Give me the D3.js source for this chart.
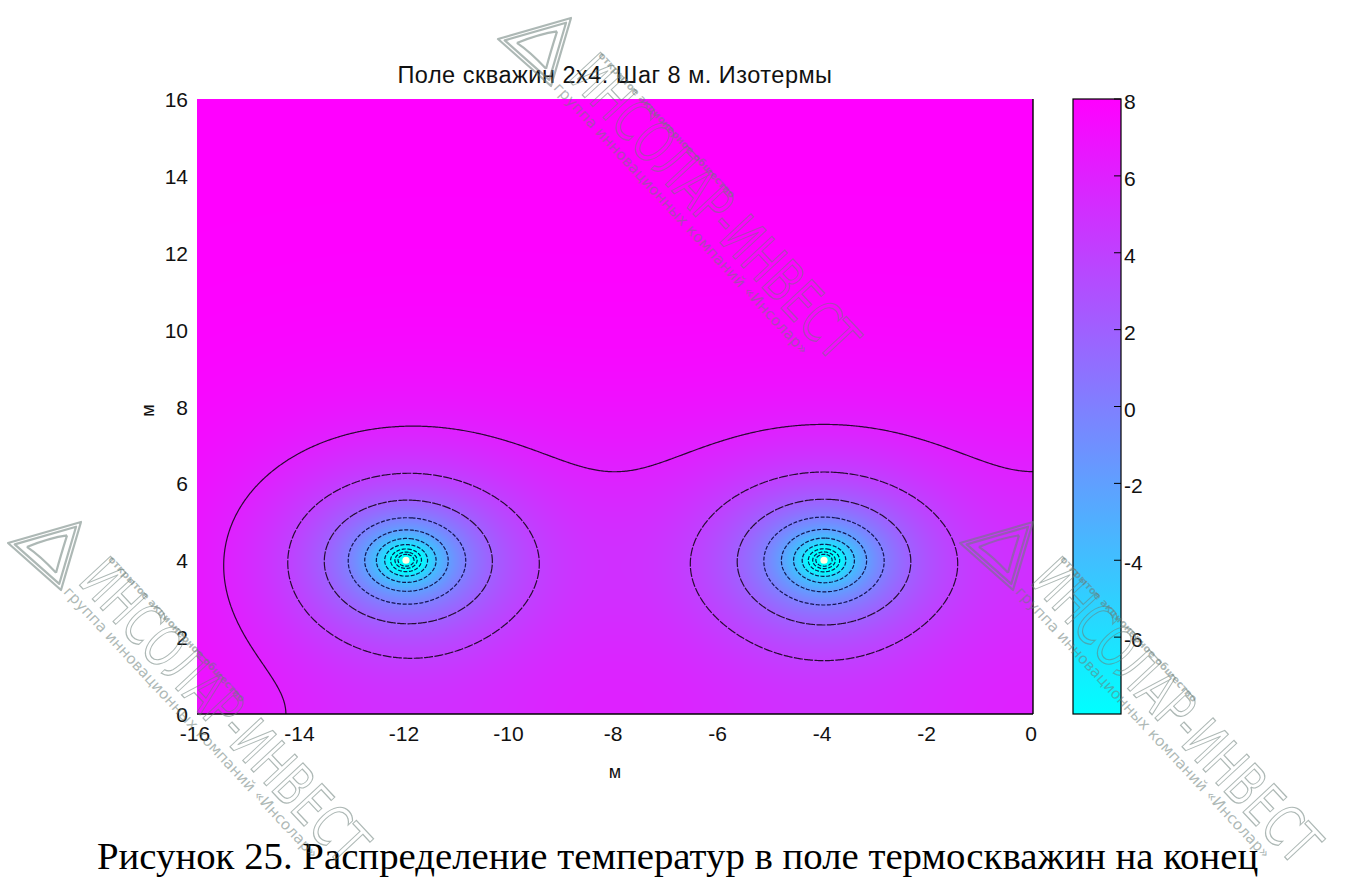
<!DOCTYPE html>
<html>
<head>
<meta charset="utf-8">
<script src="https://cdn.jsdelivr.net/npm/d3@7"></script>
<style>
  html, body { margin: 0; background: #fff; }
  svg { display: block; }
</style>
</head>
<body>
<svg id="chart" width="1360" height="887"></svg>
<script>
// Borehole field 2x4 with 8 m step (the quarter x<0, y>0 is shown)
const wellX = [-12, -4, 4, 12];     // m
const wellY = [4, -4];              // m
const groundTemp = 8;               // undisturbed ground temperature, °C
const wellStrength = 3.05;          // temperature drop scale per borehole, °C
const spreadArea = 27.5;            // 4·a·t, m²
const wellRadius = 0.05;            // m
const isoLevels = [-12, -10, -8, -6, -4, -2, 0, 2, 4, 6];
const xTicks = [-16, -14, -12, -10, -8, -6, -4, -2, 0];
const yTicks = [0, 2, 4, 6, 8, 10, 12, 14, 16];
const cbTicks = [-6, -4, -2, 0, 2, 4, 6, 8];
const xDomain = [-16, 0];
const yDomain = [0, 16];
const tempDomain = [-8, 8];
const titleText = "Поле скважин 2x4. Шаг 8 м. Изотермы";
const axisLabel = "м";
const captionText = "Рисунок 25. Распределение температур в поле термоскважин на конец";

const svg = d3.select("#chart");
const plot = { left: 197, right: 1033, top: 99, bottom: 714 };
const cb = { left: 1073, right: 1121 };

const xScale = d3.scaleLinear().domain(xDomain).range([plot.left, plot.right]);
const yScale = d3.scaleLinear().domain(yDomain).range([plot.bottom, plot.top]);
const cbScale = d3.scaleLinear().domain(tempDomain).range([plot.bottom, plot.top]);
const tScale = d3.scaleLinear().domain(tempDomain).range([0, 1]).clamp(true);
const colorScale = d3.scaleLinear().domain(tempDomain).range(["#00ffff", "#ff00ff"]).clamp(true);

// Exponential integral E1 (line-source solution)
function E1(u) {
  if (u > 40) return 0;
  if (u < 1) {
    let t = 1, s = 0;
    for (let k = 1; k <= 20; k++) { t *= -u / k; s += t / k; }
    return -0.5772156649 - Math.log(u) - s;
  }
  const num = u * u + 2.334733 * u + 0.250621;
  const den = u * u + 3.330657 * u + 1.681534;
  return Math.exp(-u) / u * num / den;
}

function temperature(x, y) {
  let d = 0;
  const rmin2 = wellRadius * wellRadius;
  for (const wx of wellX) for (const wy of wellY) {
    const dx = x - wx, dy = y - wy;
    d += E1(Math.max(dx * dx + dy * dy, rmin2) / spreadArea);
  }
  return groundTemp - wellStrength * d;
}

// ---- shaded temperature field ----
const W = plot.right - plot.left, H = plot.bottom - plot.top;
const canvas = document.createElement("canvas");
canvas.width = W; canvas.height = H;
const ctx = canvas.getContext("2d");
const img = ctx.createImageData(W, H);
for (let py = 0; py < H; py++) {
  const y = yScale.invert(plot.top + py + 0.5);
  for (let px = 0; px < W; px++) {
    const x = xScale.invert(plot.left + px + 0.5);
    const t = tScale(temperature(x, y));
    const i = (py * W + px) * 4;
    img.data[i] = Math.round(255 * t);
    img.data[i + 1] = Math.round(255 * (1 - t));
    img.data[i + 2] = 255;
    img.data[i + 3] = 255;
  }
}
ctx.putImageData(img, 0, 0);

const defs = svg.append("defs");
defs.append("clipPath").attr("id", "plotClip")
  .append("rect").attr("x", plot.left).attr("y", plot.top).attr("width", W).attr("height", H);

svg.append("image")
  .attr("x", plot.left).attr("y", plot.top)
  .attr("width", W).attr("height", H)
  .attr("preserveAspectRatio", "none")
  .attr("href", canvas.toDataURL());

// ---- isotherms ----
const step = 0.025;
const gx0 = xDomain[0] - 0.6, gy0 = yDomain[0] - 0.6;
const nx = Math.round((xDomain[1] - xDomain[0] + 1.2) / step) + 1;
const ny = Math.round((yDomain[1] - yDomain[0] + 1.2) / step) + 1;
const grid = new Float64Array(nx * ny);
for (let j = 0; j < ny; j++) for (let i = 0; i < nx; i++) {
  grid[j * nx + i] = temperature(gx0 + i * step, gy0 + j * step);
}
const contours = d3.contours().size([nx, ny]).thresholds(isoLevels)(grid);
const proj = d3.geoTransform({
  point(px, py) {
    this.stream.point(xScale(gx0 + (px - 0.5) * step), yScale(gy0 + (py - 0.5) * step));
  }
});
const geoPath = d3.geoPath(proj);

svg.append("g").attr("clip-path", "url(#plotClip)")
  .selectAll("path").data(contours).join("path")
  .attr("d", geoPath)
  .attr("fill", "none")
  .attr("stroke", d => d.value <= 0 ? "#0c0c44" : "#1a0620")
  .attr("stroke-opacity", 0.92)
  .attr("stroke-width", 1.2)
  .attr("stroke-dasharray", d => d.value >= 6 ? null : (d.value <= 0 ? "4 1.6" : "9 1.4"));

// borehole markers
const visibleWells = [];
for (const wx of wellX) for (const wy of wellY) {
  if (wx >= xDomain[0] && wx <= xDomain[1] && wy >= yDomain[0] && wy <= yDomain[1]) visibleWells.push([wx, wy]);
}
svg.append("g").selectAll("circle").data(visibleWells).join("circle")
  .attr("cx", d => xScale(d[0])).attr("cy", d => yScale(d[1]))
  .attr("r", 3.6).attr("fill", "#fffbe2");

// ---- axes ----
const axisFont = "'Liberation Sans', Arial, sans-serif";
svg.append("line").attr("x1", plot.left).attr("x2", plot.right).attr("y1", plot.bottom).attr("y2", plot.bottom)
  .attr("stroke", "#000").attr("stroke-width", 1.4);
svg.append("line").attr("x1", plot.right).attr("x2", plot.right).attr("y1", plot.top).attr("y2", plot.bottom)
  .attr("stroke", "#000").attr("stroke-width", 1.4);

svg.append("g").selectAll("text").data(xTicks).join("text")
  .attr("x", d => xScale(d) - 2).attr("y", plot.bottom + 27)
  .attr("text-anchor", "middle")
  .attr("font-family", axisFont).attr("font-size", 21).attr("fill", "#111")
  .text(d => d);

svg.append("g").selectAll("text").data(yTicks).join("text")
  .attr("x", plot.left - 9).attr("y", d => yScale(d) + 8)
  .attr("text-anchor", "end")
  .attr("font-family", axisFont).attr("font-size", 21).attr("fill", "#111")
  .text(d => d);

svg.append("text").attr("x", (plot.left + plot.right) / 2).attr("y", 778)
  .attr("text-anchor", "middle").attr("font-family", axisFont).attr("font-size", 18).attr("fill", "#111")
  .text(axisLabel);
svg.append("text").attr("transform", `translate(154,${(plot.top + plot.bottom) / 2 + 4}) rotate(-90)`)
  .attr("text-anchor", "middle").attr("font-family", axisFont).attr("font-size", 18).attr("fill", "#111")
  .text(axisLabel);

svg.append("text").attr("x", (plot.left + plot.right) / 2).attr("y", 83)
  .attr("text-anchor", "middle").attr("font-family", axisFont).attr("font-size", 23.5)
  .attr("letter-spacing", 0.5).attr("fill", "#111")
  .text(titleText);

// ---- colorbar ----
const grad = defs.append("linearGradient").attr("id", "cbGrad")
  .attr("x1", 0).attr("y1", 1).attr("x2", 0).attr("y2", 0);
grad.selectAll("stop").data(tempDomain).join("stop")
  .attr("offset", d => tScale(d))
  .attr("stop-color", d => colorScale(d));
svg.append("rect").attr("x", cb.left).attr("y", plot.top)
  .attr("width", cb.right - cb.left).attr("height", H)
  .attr("fill", "url(#cbGrad)").attr("stroke", "#000").attr("stroke-width", 1.2);
svg.append("g").selectAll("line").data(cbTicks).join("line")
  .attr("x1", cb.right - 7).attr("x2", cb.right)
  .attr("y1", d => cbScale(d)).attr("y2", d => cbScale(d))
  .attr("stroke", "#000").attr("stroke-width", 1);
svg.append("g").selectAll("text").data(cbTicks).join("text")
  .attr("x", cb.right + 3).attr("y", d => cbScale(d) + 10)
  .attr("font-family", axisFont).attr("font-size", 21).attr("fill", "#111")
  .text(d => d);

// ---- figure caption ----
svg.append("text").attr("x", 97).attr("y", 869)
  .attr("font-family", "'Liberation Serif', 'Times New Roman', serif").attr("font-size", 38.8).attr("fill", "#000")
  .text(captionText);

// ---- company watermarks ----
const wmColor = "rgba(105,125,120,0.55)";
const wmStarts = [[582, 64], [92, 568], [1044, 568]];
function watermark(x, y) {
  const g = svg.append("g").attr("transform", `translate(${x},${y})`).attr("pointer-events", "none");
  const tri = [[-84, -25], [-11, -46], [-31, 22]];
  const c = [(tri[0][0] + tri[1][0] + tri[2][0]) / 3, (tri[0][1] + tri[1][1] + tri[2][1]) / 3];
  const scaled = k => tri.map(p => [c[0] + (p[0] - c[0]) * k, c[1] + (p[1] - c[1]) * k]);
  const line = d3.line().curve(d3.curveLinearClosed);
  [1, 0.84].forEach(k => g.append("path").attr("d", line(scaled(k)))
    .attr("fill", "none").attr("stroke", wmColor).attr("stroke-width", 2.2).attr("stroke-linejoin", "round"));
  const inner = scaled(0.55);
  g.append("path")
    .attr("d", `M${inner[0][0]},${inner[0][1]} Q${c[0]},${c[1] - 14} ${inner[1][0]},${inner[1][1]} M${inner[1][0]},${inner[1][1]} Q${c[0] + 10},${c[1] + 6} ${inner[2][0]},${inner[2][1]} M${inner[2][0]},${inner[2][1]} Q${c[0] - 10},${c[1] + 4} ${inner[0][0]},${inner[0][1]}`)
    .attr("fill", "none").attr("stroke", wmColor).attr("stroke-width", 2.2);

  const r = g.append("g").attr("transform", "rotate(47)");
  r.append("text").attr("x", 0).attr("y", 21)
    .attr("font-family", "'DejaVu Sans', sans-serif").attr("font-size", 58)
    .attr("textLength", 390).attr("lengthAdjust", "spacingAndGlyphs")
    .attr("fill", "none").attr("stroke", wmColor).attr("stroke-width", 1.3)
    .text("ИНСОЛАР-ИНВЕСТ");
  r.append("text").attr("x", 5).attr("y", -17)
    .attr("font-family", "'DejaVu Sans', sans-serif").attr("font-size", 10).attr("font-weight", "bold")
    .attr("textLength", 195).attr("lengthAdjust", "spacingAndGlyphs")
    .attr("fill", wmColor)
    .text("открытое акционерное общество");
  r.append("text").attr("x", -2).attr("y", 38)
    .attr("font-family", "'DejaVu Sans', sans-serif").attr("font-size", 15)
    .attr("textLength", 365).attr("lengthAdjust", "spacingAndGlyphs")
    .attr("fill", wmColor)
    .text("группа инновационных компаний «Инсолар»");
}
wmStarts.forEach(p => watermark(p[0], p[1]));
</script>
</body>
</html>
